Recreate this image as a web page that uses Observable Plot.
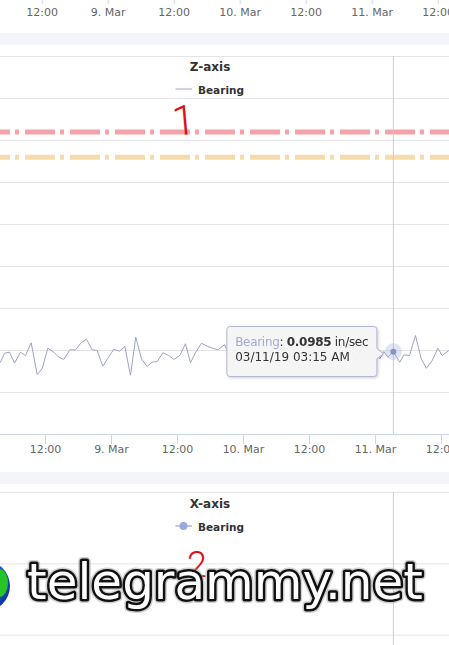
<!DOCTYPE html>
<html>
<head>
<meta charset="utf-8">
<script src="https://cdn.jsdelivr.net/npm/d3@7"></script>
<script src="https://cdn.jsdelivr.net/npm/@observablehq/plot@0.6"></script>
<style>
  html, body { margin: 0; padding: 0; background: #fff; }
  #page { position: relative; width: 449px; height: 645px; overflow: hidden; background: #fff; font-family: "DejaVu Sans", sans-serif; }
  .abs { position: absolute; left: 0; }
  .band { position: absolute; left: 0; width: 449px; background: #f4f5f8; }
</style>
</head>
<body>
<div id="page">
  <div id="top" class="abs" style="top:-7px"></div>
  <div class="band" style="top:33px;height:12px"></div>
  <div id="c1" class="abs" style="top:46px"></div>
  <div class="band" style="top:472px;height:12px"></div>
  <div id="c2" class="abs" style="top:484px"></div>
</div>
<script>
// Bearing vibration, Z-axis (in/sec), sampled roughly hourly
const times = [
  "2019-03-08T02:49", "2019-03-08T03:49", "2019-03-08T04:33", "2019-03-08T05:27", "2019-03-08T06:22",
  "2019-03-08T07:27", "2019-03-08T08:22", "2019-03-08T09:24", "2019-03-08T10:29", "2019-03-08T11:24",
  "2019-03-08T12:25", "2019-03-08T13:31", "2019-03-08T14:25", "2019-03-08T15:20", "2019-03-08T16:25",
  "2019-03-08T17:27", "2019-03-08T18:29", "2019-03-08T19:27", "2019-03-08T20:29", "2019-03-08T21:24",
  "2019-03-08T22:25", "2019-03-08T23:24", "2019-03-09T00:25", "2019-03-09T01:27", "2019-03-09T02:25",
  "2019-03-09T03:27", "2019-03-09T04:25", "2019-03-09T05:27", "2019-03-09T06:29", "2019-03-09T07:24",
  "2019-03-09T08:19", "2019-03-09T09:20", "2019-03-09T10:25", "2019-03-09T11:20", "2019-03-09T12:25",
  "2019-03-09T13:27", "2019-03-09T14:22", "2019-03-09T15:16", "2019-03-09T16:22", "2019-03-09T17:24",
  "2019-03-09T18:25", "2019-03-09T19:20", "2019-03-09T20:33", "2019-03-09T21:25", "2019-03-09T22:25",
  "2019-03-09T23:25", "2019-03-10T00:25", "2019-03-10T01:25", "2019-03-10T02:25", "2019-03-10T03:25",
  "2019-03-10T04:25", "2019-03-10T05:25", "2019-03-10T06:25", "2019-03-10T07:25", "2019-03-10T08:25",
  "2019-03-10T09:25", "2019-03-10T10:25", "2019-03-10T11:25", "2019-03-10T12:25", "2019-03-10T13:25",
  "2019-03-10T14:25", "2019-03-10T15:25", "2019-03-10T16:25", "2019-03-10T17:25", "2019-03-10T18:25",
  "2019-03-10T19:25", "2019-03-10T20:25", "2019-03-10T21:25", "2019-03-10T22:25", "2019-03-10T23:25",
  "2019-03-11T00:47", "2019-03-11T01:31", "2019-03-11T02:15", "2019-03-11T03:15", "2019-03-11T04:25",
  "2019-03-11T05:09", "2019-03-11T06:11", "2019-03-11T07:16", "2019-03-11T08:19", "2019-03-11T09:16",
  "2019-03-11T10:19", "2019-03-11T11:20", "2019-03-11T12:08", "2019-03-11T13:20", "2019-03-11T14:20"
];
const bearing = [
  0.0905, 0.0861, 0.0968, 0.0980, 0.0849,
  0.0980, 0.0940, 0.1092, 0.0714, 0.0782,
  0.1027, 0.0980, 0.0920, 0.0893, 0.1008,
  0.1008, 0.1092, 0.1135, 0.1008, 0.1000,
  0.0813, 0.0913, 0.1015, 0.0992, 0.1048,
  0.0706, 0.1158, 0.0901, 0.0810, 0.0861,
  0.0869, 0.0973, 0.0940, 0.0893, 0.0940,
  0.1080, 0.0854, 0.0973, 0.1087, 0.1051,
  0.1027, 0.1008, 0.1068, 0.0945, 0.1012,
  0.0878, 0.0990, 0.1064, 0.0921, 0.0962,
  0.0835, 0.1030, 0.0987, 0.0910, 0.1102,
  0.0954, 0.0889, 0.1018, 0.0966, 0.0842,
  0.1045, 0.0975, 0.0930, 0.1071, 0.0918,
  0.0997, 0.0869, 0.1024, 0.0950, 0.1008,
  0.0901, 0.0988, 0.0920, 0.0985, 0.0861,
  0.0949, 0.0940, 0.1179, 0.0901, 0.0789,
  0.0881, 0.1027, 0.0940, 0.1000, 0.0950
];

// Alarm thresholds (in/sec)
const alarmLevel = 0.36;
const alertLevel = 0.33;

// Value grid lines
const zTicks = [0.05, 0.10, 0.15, 0.20, 0.25, 0.30, 0.35, 0.40, 0.45];
const xAxisTicks = [0.1, 0.2, 0.3];

// Time axis ticks
const tickTimes = ["2019-03-08T12:00", "2019-03-09T00:00", "2019-03-09T12:00", "2019-03-10T00:00",
                   "2019-03-10T12:00", "2019-03-11T00:00", "2019-03-11T12:00"];
const tickLabels = ["12:00", "9. Mar", "12:00", "10. Mar", "12:00", "11. Mar", "12:00"];

// Visible time window of each panel
const windowMain = ["2019-03-08T03:49:05", "2019-03-11T13:27:16"];
const windowUpper = ["2019-03-08T04:25:05", "2019-03-11T14:03:16"];

// Hovered sample
const hoverTime = "2019-03-11T03:15";

const seriesColor = "#9ea3c6";
const C1_TOP = 46, C2_TOP = 484;

const data = times.map((t, i) => ({t: new Date(t), v: bearing[i]}));
const hover = data.find(d => +d.t === +new Date(hoverTime));
const tickDates = tickTimes.map(s => new Date(s));
const labelOf = new Map(tickDates.map((d, i) => [+d, tickLabels[i]]));
const fmtTick = d => labelOf.get(+d);

const baseStyle = {background: "transparent", fontFamily: "DejaVu Sans, sans-serif", fontSize: "11px", color: "#666"};

// Axis strip of the panel above
const topAxis = Plot.plot({
  width: 449, height: 30, marginTop: 0, marginBottom: 29, marginLeft: 0, marginRight: 0,
  style: {...baseStyle, overflow: "visible"},
  x: {type: "time", domain: windowUpper.map(s => new Date(s)), label: null},
  marks: [
    Plot.axisX(tickDates, {tickFormat: fmtTick, tickSize: 10, tickPadding: 4, stroke: "#ccd6eb", fill: "#666", fontSize: 11, label: null})
  ]
});
document.getElementById("top").append(topAxis);

// Z-axis panel
const dash = "30,5,4,6";
const chart1 = Plot.plot({
  width: 449, height: 414, marginTop: 10, marginBottom: 26, marginLeft: 0, marginRight: 0,
  style: baseStyle,
  x: {type: "time", domain: windowMain.map(s => new Date(s)), label: null},
  y: {domain: [0, 0.45], axis: null},
  marks: [
    Plot.ruleY(zTicks, {stroke: "#e4e4e4"}),
    Plot.ruleY([alarmLevel], {stroke: "#f5a3a8", strokeWidth: 5, strokeDasharray: dash, strokeDashoffset: 20}),
    Plot.ruleY([alertLevel], {stroke: "#f6dcab", strokeWidth: 5, strokeDasharray: dash, strokeDashoffset: 20}),
    Plot.ruleX([hover.t], {stroke: "#cccccc"}),
    Plot.line(data, {x: "t", y: "v", stroke: seriesColor, strokeWidth: 1}),
    Plot.dot([hover], {x: "t", y: "v", r: 8.5, fill: "#a9b2dd", fillOpacity: 0.35, stroke: null}),
    Plot.dot([hover], {x: "t", y: "v", r: 3, fill: "#8794cc", stroke: null}),
    Plot.ruleY([0], {stroke: "#ccd6eb"}),
    Plot.axisX(tickDates, {tickFormat: fmtTick, tickSize: 10, tickPadding: 1, stroke: "#ccd6eb", fill: "#666", fontSize: 11, label: null})
  ]
});
document.getElementById("c1").append(chart1);

// X-axis panel (upper part)
const chart2 = Plot.plot({
  width: 449, height: 250, marginTop: 8, marginBottom: 28, marginLeft: 0, marginRight: 0,
  style: baseStyle,
  x: {type: "time", domain: windowMain.map(s => new Date(s)), axis: null},
  y: {domain: [0, 0.3], axis: null},
  marks: [
    Plot.ruleY(xAxisTicks, {stroke: "#e4e4e4"}),
    Plot.ruleX([hover.t], {stroke: "#cccccc"})
  ]
});
document.getElementById("c2").append(chart2);

// Titles, legends, tooltip and annotations drawn over the panels
const ov = d3.select("#page").append("svg")
  .attr("width", 449).attr("height", 645)
  .style("position", "absolute").style("left", 0).style("top", 0)
  .style("font-family", "DejaVu Sans, sans-serif");

function panelHeader(title, titleY, legendY, withMarker) {
  ov.append("text").attr("x", 210).attr("y", titleY).attr("text-anchor", "middle")
    .attr("font-size", 12).attr("font-weight", "bold").attr("fill", "#333").text(title);
  ov.append("line").attr("x1", 175.5).attr("x2", 192).attr("y1", legendY - 5).attr("y2", legendY - 5)
    .attr("stroke", withMarker ? "#a9b4de" : "#c2c5d9").attr("stroke-width", 1.5);
  if (withMarker) ov.append("circle").attr("cx", 183.5).attr("cy", legendY - 5).attr("r", 4).attr("fill", "#9aa8dc");
  ov.append("text").attr("x", 198).attr("y", legendY).attr("font-size", 10.5).attr("font-weight", "bold")
    .attr("fill", "#333").text("Bearing");
}
panelHeader("Z-axis", 71, 94, false);
panelHeader("X-axis", 508, 531, true);

// Tooltip callout for the hovered sample
const px = chart1.scale("x").apply(hover.t);
const py = C1_TOP + chart1.scale("y").apply(hover.v);
const bw = 150, bh = 50, bx = px - 166, by = py - 24.7, rr = 3;
const tip = ov.append("g").style("filter", "drop-shadow(1px 1px 1.5px rgba(0,0,0,0.18))");
tip.append("path")
  .attr("d", `M${bx + rr},${by} H${bx + bw - rr} Q${bx + bw},${by} ${bx + bw},${by + rr}
    V${py - 2.7} L${px - 9.4},${py + 2.6} L${bx + bw},${py + 7.3}
    V${by + bh - rr} Q${bx + bw},${by + bh} ${bx + bw - rr},${by + bh}
    H${bx + rr} Q${bx},${by + bh} ${bx},${by + bh - rr} V${by + rr} Q${bx},${by} ${bx + rr},${by} Z`)
  .attr("fill", "rgba(247,247,247,0.95)").attr("stroke", "#b3b6d3").attr("stroke-width", 1);
const t1 = tip.append("text").attr("x", bx + 8.3).attr("y", by + 19.7).attr("font-size", 12)
  .attr("letter-spacing", -0.3).attr("fill", "#333");
t1.append("tspan").attr("fill", "#a6a9cf").text("Bearing");
t1.append("tspan").text(": ");
t1.append("tspan").attr("font-weight", "bold").text(hover.v.toFixed(4));
t1.append("tspan").text(" in/sec");
tip.append("text").attr("x", bx + 8.3).attr("y", by + 34.7).attr("font-size", 12).attr("fill", "#333")
  .text(d3.timeFormat("%m/%d/%y %I:%M %p")(hover.t));

// Hand-written panel numbers
ov.append("text").attr("x", 172).attr("y", 135).attr("font-family", "Roboto, sans-serif").attr("font-weight", 300)
  .attr("font-size", 42).attr("fill", "#d8121b").attr("transform", "rotate(-5 182 120)").text("1");
ov.append("text").attr("x", 187).attr("y", 577).attr("font-family", "Roboto, sans-serif").attr("font-weight", 300)
  .attr("font-size", 36).attr("fill", "#d8121b").text("2");

// Site stamp
const defs = ov.append("defs");
const g = defs.append("radialGradient").attr("id", "globe").attr("cx", "40%").attr("cy", "35%").attr("r", "70%");
g.append("stop").attr("offset", "0%").attr("stop-color", "#4fa3ff");
g.append("stop").attr("offset", "100%").attr("stop-color", "#0b2f9c");
defs.append("clipPath").attr("id", "globeClip").append("circle").attr("cx", -15).attr("cy", 586).attr("r", 25);
ov.append("circle").attr("cx", -15).attr("cy", 586).attr("r", 25).attr("fill", "url(#globe)");
ov.append("ellipse").attr("cx", -1).attr("cy", 583).attr("rx", 9).attr("ry", 14)
  .attr("fill", "#27c427").attr("clip-path", "url(#globeClip)");
const stamp = "telegrammy.net";
ov.append("text").attr("x", 225).attr("y", 599).attr("text-anchor", "middle")
  .attr("font-size", 50).attr("fill", "none")
  .attr("stroke", "#999").attr("stroke-opacity", 0.45).attr("stroke-width", 8).attr("stroke-linejoin", "round").text(stamp);
ov.append("text").attr("x", 225).attr("y", 599).attr("text-anchor", "middle")
  .attr("font-size", 50).attr("fill", "#fff")
  .attr("stroke", "#111").attr("stroke-width", 5).attr("stroke-linejoin", "round")
  .style("paint-order", "stroke fill").text(stamp);
</script>
</body>
</html>
